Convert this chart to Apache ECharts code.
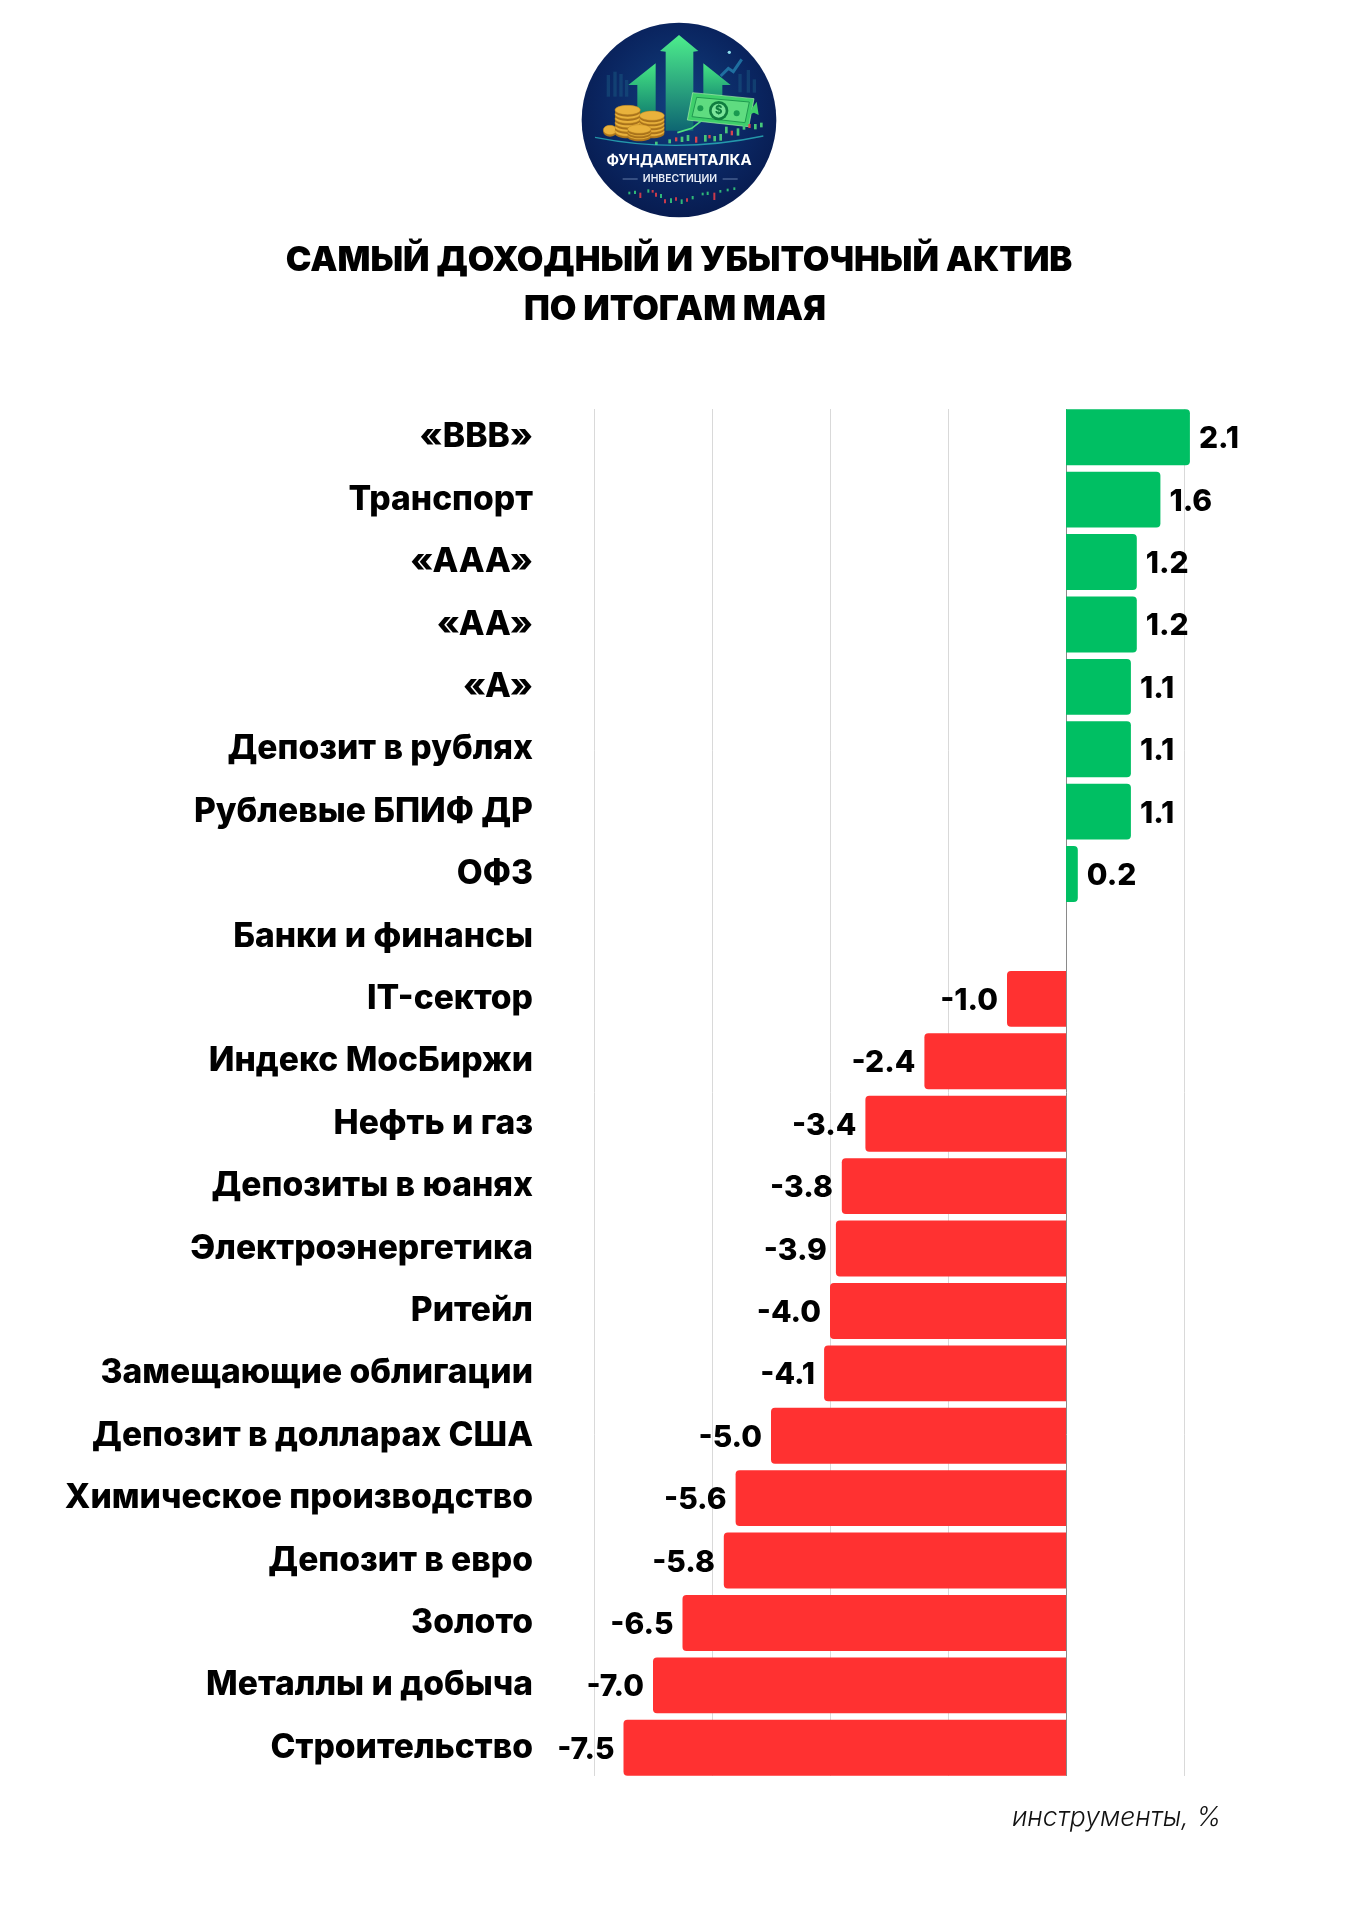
<!DOCTYPE html>
<html lang="ru">
<head>
<meta charset="utf-8">
<title>Самый доходный и убыточный актив по итогам мая</title>
<style>html,body{margin:0;padding:0;background:#fff}#chart{width:1358px;height:1920px}</style>
<script src="https://cdn.jsdelivr.net/npm/echarts@6/dist/echarts.min.js"></script>
</head>
<body>
<div id="chart"></div>
<script>
// Доходность инструментов за май, %
const categories = ['«BBB»','Транспорт','«AAA»','«AA»','«A»','Депозит в рублях','Рублевые БПИФ ДР','ОФЗ','Банки и финансы','IT-сектор','Индекс МосБиржи','Нефть и газ','Депозиты в юанях','Электроэнергетика','Ритейл','Замещающие облигации','Депозит в долларах США','Химическое производство','Депозит в евро','Золото','Металлы и добыча','Строительство'];
const returns = [2.1,1.6,1.2,1.2,1.1,1.1,1.1,0.2,null,-1.0,-2.4,-3.4,-3.8,-3.9,-4.0,-4.1,-5.0,-5.6,-5.8,-6.5,-7.0,-7.5];
const gridValues = [-8,-6,-4,-2,2];
const titleLines = ['САМЫЙ ДОХОДНЫЙ И УБЫТОЧНЫЙ АКТИВ','ПО ИТОГАМ МАЯ'];
const unitNote = 'инструменты, %';

const GREEN = '#00BF63', RED = '#FF3131';
const FONT = 'Inter, "Noto Sans", sans-serif';
const LINE_TOP = 409, LINE_BOTTOM = 1776;

// Эмблема: рисуется в собственной системе координат (720×720), затем масштабируется
const fade = (a, b) => ({type:'linear',x:0,y:0,x2:0,y2:1,colorStops:[{offset:0,color:a},{offset:1,color:b}]});
const coin = (cx, cy, rx, ry) => [
  {type:'ellipse',shape:{cx,cy:cy+6,rx,ry},style:{fill:'#a8721c'}},
  {type:'ellipse',shape:{cx,cy,rx,ry},style:{fill:'#e9b23c',stroke:'#b9821f',lineWidth:1.5}}
];
const stack = (cx, top, bottom, rx, ry, step) => {
  const out = [];
  for (let y = bottom; y >= top; y -= step) out.push(...coin(cx, y, rx, ry));
  return out;
};
const candleUp = [[285,425,10],[325,418,12],[362,410,16],[380,405,18],[432,405,20],[460,408,16],[478,402,20],[495,380,20],[530,385,22],[548,375,14],[582,372,16],[600,368,14]];
const candleDown = [[345,412,12],[405,410,18],[445,405,10],[512,392,14],[565,372,12]];
const lowUp = [[205,575,8],[222,572,10],[262,568,10],[300,582,12],[330,595,14],[362,598,14],[395,588,10],[425,578,8],[440,575,10],[478,570,8],[500,566,8],[520,562,8]];
const lowDown = [[238,578,16],[275,570,8],[285,578,12],[312,598,12],[345,592,10],[378,595,10],[460,578,22]];
const bars = (list, fill, w) => list.map(([x,y,h]) => ({type:'rect',shape:{x,y,width:w,height:h},style:{fill}}));
const skyline = [[140,225,65],[160,215,75],[178,222,68],[195,240,50],[535,222,55],[560,210,68],[578,238,40]];

const emblem = {
  type:'group', x:560, y:0, scaleX:1/3, scaleY:1/3, silent:true,
  children:[
    {type:'circle',shape:{cx:357,cy:360,r:292},style:{fill:{type:'radial',x:0.5,y:0.42,r:0.62,colorStops:[{offset:0,color:'#12407f'},{offset:0.65,color:'#0a2560'},{offset:1,color:'#071a4d'}]}}},
    ...skyline.map(([x,y,h]) => ({type:'rect',shape:{x,y,width:10,height:h},style:{fill:'#1a5d86',opacity:0.45}})),
    {type:'polyline',shape:{points:[[482,228],[505,205],[520,215],[545,178]]},style:{stroke:'#1f6fa0',lineWidth:9,fill:'none'}},
    {type:'circle',shape:{cx:508,cy:157,r:5},style:{fill:'#8fe0ee'}},
    {type:'polygon',shape:{points:[[205,255],[287,190],[287,350],[232,350],[232,255]]},style:{fill:fade('#45e584','#128070')}},
    {type:'polygon',shape:{points:[[430,190],[512,255],[487,255],[487,320],[430,320]]},style:{fill:fade('#45e584','#128070')}},
    {type:'polygon',shape:{points:[[300,153],[357,105],[415,153],[400,155],[400,392],[317,392],[317,155]]},style:{fill:fade('#4dee8c','#0e6672')}},
    ...stack(150,385,390,20,14,8),
    ...stack(203,318,395,38,14,13),
    ...stack(276,345,395,37,14,12),
    ...stack(238,380,405,35,13,9),
    {type:'polygon',shape:{points:[[398,278],[582,296],[566,380],[382,360]]},style:{fill:'#3fcf6b',stroke:'#a8f0a8',lineWidth:2}},
    {type:'polygon',shape:{points:[[410,292],[568,306],[555,368],[396,350]]},style:{fill:'#5fdc80',stroke:'#1f9a50',lineWidth:3}},
    {type:'circle',shape:{cx:476,cy:332,r:29},style:{fill:'#0f7d3f'}},
    {type:'circle',shape:{cx:476,cy:332,r:21},style:{fill:'#7ce59a'}},
    {type:'text',x:476,y:332,style:{text:'$',fill:'#0f7d3f',font:'800 34px '+FONT,align:'center',verticalAlign:'middle'}},
    {type:'circle',shape:{cx:421,cy:325,r:9},style:{fill:'#1a9a50'}},
    {type:'circle',shape:{cx:530,cy:340,r:9},style:{fill:'#1a9a50'}},
    {type:'polyline',shape:{points:[[352,398],[395,385],[425,362]]},style:{stroke:'#4ee07f',lineWidth:5,fill:'none'}},
    {type:'polygon',shape:{points:[[565,345],[578,322],[590,305],[596,345],[582,338]]},style:{fill:'#3fcf6b'}},
    ...bars(candleUp,'#46c77a',8),
    ...bars(candleDown,'#d9434e',7),
    {type:'bezierCurve',shape:{x1:105,y1:412,x2:610,y2:408,cpx1:357,cpy1:462},style:{fill:'none',stroke:'#2fc7c9',lineWidth:4,opacity:0.7}},
    {type:'text',x:357,y:482,style:{text:'ФУНДАМЕНТАЛКА',fill:'#fff',font:'700 45px '+FONT,align:'center',verticalAlign:'middle'}},
    {type:'text',x:360,y:537,style:{text:'ИНВЕСТИЦИИ',fill:'#e8eef8',font:'600 31px '+FONT,align:'center',verticalAlign:'middle'}},
    {type:'rect',shape:{x:188,y:536,width:45,height:2},style:{fill:'#8fa9d0'}},
    {type:'rect',shape:{x:488,y:536,width:45,height:2},style:{fill:'#8fa9d0'}},
    ...bars(lowUp,'#2fb878',6),
    ...bars(lowDown,'#c93a4c',6)
  ]
};

const vertical = (v, color) => [
  {xAxis:v, y:LINE_TOP, lineStyle:{color,width:1,type:'solid'}},
  {xAxis:v, y:LINE_BOTTOM}
];

const option = {
  animation:false,
  backgroundColor:'#fff',
  grid:{left:594,width:590,top:406,height:1373,containLabel:false},
  xAxis:{type:'value',min:-8,max:2,interval:2,
    axisLine:{show:false},axisTick:{show:false},axisLabel:{show:false},splitLine:{show:false}},
  yAxis:{type:'category',inverse:true,data:categories,
    axisLine:{show:false,onZero:false},axisTick:{show:false},
    axisLabel:{margin:61,color:'#000',fontFamily:FONT,fontWeight:800,fontSize:33.6,align:'right',padding:[3,0,0,0]}},
  series:[{
    type:'bar',clip:false,barCategoryGap:'10.4%',z:3,
    data:returns.map(v => v === null ? null : ({
      value:v,
      itemStyle:{color:v >= 0 ? GREEN : RED,borderRadius:v >= 0 ? [0,4,4,0] : [4,0,0,4]},
      label:{position:v >= 0 ? 'right' : 'left'}
    })),
    label:{show:true,distance:9,offset:[0,2],color:'#000',fontFamily:FONT,fontWeight:800,fontSize:30,
      formatter:p => p.value.toFixed(1)},
    markLine:{silent:true,symbol:'none',label:{show:false},z:1,
      data:[...gridValues.map(v => vertical(v,'#d9d9d9')), vertical(0,'#8a8a8a')]}
  }],
  graphic:[
    emblem,
    {type:'text',x:679,y:261,silent:true,style:{text:titleLines[0],fill:'#000',font:'900 34.4px '+FONT,align:'center',verticalAlign:'middle'}},
    {type:'text',x:675,y:310,silent:true,style:{text:titleLines[1],fill:'#000',font:'900 34.4px '+FONT,align:'center',verticalAlign:'middle'}},
    {type:'text',x:1221,y:1818,silent:true,style:{text:unitNote,fill:'#111',font:'italic 300 26.5px '+FONT,align:'right',verticalAlign:'middle'}}
  ]
};

echarts.init(document.getElementById('chart'),null,{renderer:'canvas'}).setOption(option);
</script>
</body>
</html>
